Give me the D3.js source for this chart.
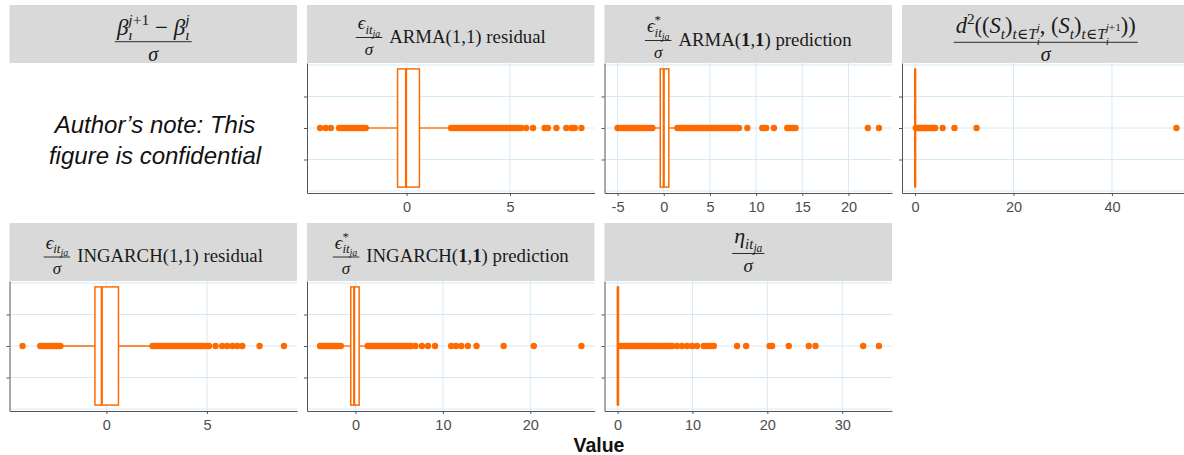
<!DOCTYPE html>
<html><head><meta charset="utf-8">
<script src="https://cdn.jsdelivr.net/npm/d3@7"></script>
<style>body{margin:0;background:#fff}svg{display:block}text{white-space:pre}</style>
</head><body>
<svg id="c" width="1184" height="455"></svg>
<script>
// ---------------- DATA ----------------
// box stats: [lower whisker, Q1, median, Q3, upper whisker]
const armaResBox = [-1.95, -0.44, -0.03, 0.62, 2.1];
const armaResOutliers = [-4.19, -3.92, -3.67, -3.27, -3.18, -3.1, -3.0, -2.92, -2.83, -2.75, -2.66, -2.58, -2.49, -2.41, -2.32, -2.24, -2.15, -2.07, -1.98,
  2.15, 2.23, 2.31, 2.4, 2.48, 2.57, 2.65, 2.74, 2.82, 2.9, 2.99, 3.07, 3.16, 3.24, 3.33, 3.41, 3.5, 3.58, 3.66, 3.75, 3.83, 3.92, 4.0, 4.09, 4.17, 4.26, 4.34, 4.42, 4.51, 4.6, 4.68, 4.77, 4.85, 4.94, 5.02, 5.1, 5.19, 5.27, 5.36, 5.45, 5.55,
  5.79, 6.12, 6.68, 6.84, 7.25, 7.73, 7.98, 8.14, 8.46];
const armaResTicks = [0, 5];

const armaPredBox = [-1.2, -0.38, 0.0, 0.55, 1.45];
const armaPredOutliers = [-5.0, -4.8, -4.6, -4.42, -4.25, -4.06, -3.88, -3.7, -3.52, -3.33, -3.15, -2.96, -2.78, -2.6, -2.42, -2.23, -2.05, -1.86, -1.68, -1.5, -1.32, -1.23,
  1.48, 1.66, 1.85, 2.03, 2.21, 2.4, 2.58, 2.76, 2.95, 3.13, 3.31, 3.5, 3.68, 3.86, 4.05, 4.23, 4.41, 4.6, 4.78, 4.96, 5.15, 5.33, 5.51, 5.7, 5.88, 6.06, 6.25, 6.43, 6.61, 6.8, 6.98, 7.16, 7.35, 7.53, 7.75, 7.95, 8.14,
  9.05, 10.67, 10.85, 11.1, 11.93, 13.37, 13.55, 13.75, 13.95, 14.12, 14.27, 22.1, 23.3];
const armaPredTicks = [-5, 0, 5, 10, 15, 20];

const d2Box = [0, 0, 0.02, 0.06, 0.1];
const d2Outliers = [0.15, 0.4, 0.65, 0.9, 1.15, 1.4, 1.65, 1.9, 2.15, 2.4, 2.7, 3.0, 3.3, 3.6, 3.85, 4.07, 5.6, 8.0, 12.5, 53.1];
const d2Ticks = [0, 20, 40];

const ingResBox = [-2.25, -0.57, -0.23, 0.6, 2.25];
const ingResOutliers = [-4.17, -3.29, -3.19, -3.09, -2.99, -2.89, -2.79, -2.69, -2.59, -2.49, -2.39, -2.29,
  2.3, 2.4, 2.5, 2.6, 2.7, 2.8, 2.9, 3.0, 3.1, 3.2, 3.3, 3.4, 3.5, 3.6, 3.7, 3.8, 3.9, 4.0, 4.1, 4.2, 4.3, 4.4, 4.5, 4.6, 4.7, 4.8, 4.9, 5.0, 5.1,
  5.43, 5.76, 6.01, 6.27, 6.51, 6.76, 7.62, 8.83];
const ingResTicks = [0, 5];

const ingPredBox = [-1.6, -0.54, -0.15, 0.42, 1.35];
const ingPredOutliers = [-4.05, -3.85, -3.65, -3.45, -3.25, -3.05, -2.85, -2.65, -2.45, -2.25, -2.05, -1.85, -1.68,
  1.4, 1.6, 1.8, 2.0, 2.2, 2.4, 2.6, 2.8, 3.0, 3.2, 3.4, 3.6, 3.8, 4.0, 4.2, 4.4, 4.6, 4.8, 5.0, 5.2, 5.4, 5.6, 5.8, 6.0, 6.2, 6.35,
  6.85, 7.6, 8.3, 9.1, 10.95, 11.5, 12.1, 12.85, 13.85, 16.95, 20.4, 25.85];
const ingPredTicks = [0, 10, 20];

const etaBox = [0, 0, 0.03, 0.12, 0.28];
const etaOutliers = [0.35, 0.6, 0.85, 1.1, 1.35, 1.6, 1.85, 2.1, 2.35, 2.6, 2.85, 3.1, 3.35, 3.6, 3.85, 4.1, 4.35, 4.6, 4.85, 5.1, 5.35, 5.6, 5.85, 6.1, 6.35, 6.6, 6.85, 7.1, 7.3,
  7.94, 8.6, 9.28, 9.95, 10.6, 11.5, 11.9, 12.2, 12.5, 12.85, 15.96, 17.17, 20.3, 20.64, 22.86, 25.53, 26.43, 32.8, 34.9];
const etaTicks = [0, 10, 20, 30];

const panelLabels = ["", "ARMA(1,1) residual", "ARMA(1,1) prediction", "", "INGARCH(1,1) residual", "INGARCH(1,1) prediction", ""];
const yBreaks = [-0.4, -0.2, 0, 0.2, 0.4];
const noteLines = ["Author’s note: This", "figure is confidential"];
const xTitle = "Value";

// ---------------- STYLE / LAYOUT ----------------
const orange = "#ff6a00";
const gridCol = "#d6eaf6";
const stripCol = "#d9d9d9";
const serif = "'Liberation Serif','DejaVu Serif',serif";
const sans = "'Liberation Sans',Arial,sans-serif";
const cols = [9.5, 307, 604.5, 902];
const rowsTop = [5, 223];
const panelW = 287.5, stripH = 58, plotH = 130;

const m = (t, l, i, f) => Object.assign({t, l, i}, f || {});
const numBeta = [m('β',0,1), m('j',1,1,{cs:1}), m('+1',1,0), m('ı',-1,1,{back:1}), m(' − ',0,0), m('β',0,1), m('j',1,1,{cs:1}), m('ı',-1,1,{back:1})];
const numEps = [m('ϵ',0,1), m('it',-1,1), m('ja',-2,1)];
const numEpsStar = [m('ϵ',0,1), m('*',1,0,{cs:1}), m('it',-1,1,{back:1}), m('ja',-2,1)];
const numD2 = [m('d',0,1), m('2',1,0), m('((',0,0), m('S',0,1), m('t',-1,1), m(')',0,0), m('t',-1,1), m('∈',-1,0), m('T',-1,1), m('j',-1.5,1,{cs:1}), m('i',-2.5,1,{back:1}),
  m(', (',0,0), m('S',0,1), m('t',-1,1), m(')',0,0), m('t',-1,1), m('∈',-1,0), m('T',-1,1), m('j',-1.5,1,{cs:1}), m('+1',-1.5,0), m('i',-2.5,1,{back:1}), m('))',0,0)];
const numEta = [m('η',0,1), m('it',-1,1), m('ja',-2,1)];

const panels = [
  {col:0,row:0, num:numBeta, ms:23, ds:20, lineOff:36.7, nb:-7, db:19},
  {col:1,row:0, box:armaResBox, out:armaResOutliers, ticks:armaResTicks, num:numEps, ms:19, ds:17, lineOff:32.5, nb:-8.5, db:17},
  {col:2,row:0, box:armaPredBox, out:armaPredOutliers, ticks:armaPredTicks, num:numEpsStar, ms:19, ds:17, lineOff:35.5, nb:-8.5, db:17, bold:true},
  {col:3,row:0, box:d2Box, out:d2Outliers, ticks:d2Ticks, num:numD2, ms:22.5, ds:20, lineOff:37.3, nb:-9, db:19},
  {col:0,row:1, box:ingResBox, out:ingResOutliers, ticks:ingResTicks, num:numEps, ms:19, ds:17, lineOff:34, nb:-8.5, db:17},
  {col:1,row:1, box:ingPredBox, out:ingPredOutliers, ticks:ingPredTicks, num:numEpsStar, ms:19, ds:17, lineOff:34, nb:-8.5, db:17, bold:true},
  {col:2,row:1, box:etaBox, out:etaOutliers, ticks:etaTicks, num:numEta, ms:22, ds:19, lineOff:30.5, nb:-10.5, db:18.5},
];

const svg = d3.select('#c');
const lv = {"0":[1,0], "1":[0.68,-0.42], "-1":[0.68,0.25], "-2":[0.52,0.42], "-1.5":[0.5,-0.12], "-2.5":[0.5,0.5]};

function drawRow(g, items, base) {
  let x = 0, colStart = 0;
  items.forEach(it => {
    const [sc, dy] = lv[String(it.l)];
    if (it.cs) colStart = x;
    let colEnd = 0;
    if (it.back) { colEnd = x; x = colStart; }
    const t = g.append('text').attr('x', x).attr('y', dy*base).attr('font-size', sc*base)
      .attr('font-style', it.i ? 'italic' : 'normal').text(it.t);
    x += t.node().getComputedTextLength();
    if (it.back) x = Math.max(x, colEnd);
  });
  return x;
}

function header(p, idx, left, top) {
  svg.append('rect').attr('x', left).attr('y', top).attr('width', panelW).attr('height', stripH).attr('fill', stripCol);
  const g = svg.append('g').attr('font-family', serif).attr('fill', '#1a1a1a');
  const num = g.append('g');
  const numW = drawRow(num, p.num, p.ms);
  const den = g.append('text').attr('font-style', 'italic').attr('font-size', p.ds).attr('y', p.db).text('σ');
  const denW = den.node().getComputedTextLength();
  const fw = Math.max(numW, denW) + 4;
  num.attr('transform', `translate(${(fw - numW)/2},${p.nb})`);
  den.attr('x', (fw - denW)/2);
  g.append('line').attr('x1', 0).attr('x2', fw).attr('stroke', '#1a1a1a').attr('stroke-width', 0.9);
  let total = fw;
  const label = panelLabels[idx];
  if (label) {
    const t = g.append('text').attr('x', fw + 7).attr('y', 5).attr('font-size', 18.8);
    label.split(/(1)/).forEach(s => { if (s) t.append('tspan').attr('font-weight', (p.bold && s === '1') ? 'bold' : 'normal').text(s); });
    total = fw + 7 + t.node().getComputedTextLength();
  }
  g.attr('transform', `translate(${left + (panelW - total)/2},${top + p.lineOff})`);
}

panels.forEach((p, idx) => {
  const left = cols[p.col], top = rowsTop[p.row];
  header(p, idx, left, top);
  if (!p.box) return;
  const pt = top + stripH, pb = pt + plotH;
  const lo = d3.min(p.out.concat(p.box)), hi = d3.max(p.out.concat(p.box));
  const pad = (hi - lo) * 0.05;
  const x = d3.scaleLinear().domain([lo - pad, hi + pad]).range([left, left + panelW]);
  const y = d3.scaleLinear().domain([-0.4125, 0.4125]).range([pb, pt]);
  const g = svg.append('g');
  // grid
  g.selectAll('.gy').data(yBreaks).join('line').attr('x1', left).attr('x2', left + panelW)
    .attr('y1', d => y(d)).attr('y2', d => y(d)).attr('stroke', gridCol).attr('stroke-width', 1);
  g.selectAll('.gx').data(p.ticks).join('line').attr('y1', pt).attr('y2', pb)
    .attr('x1', d => x(d)).attr('x2', d => x(d)).attr('stroke', gridCol).attr('stroke-width', 1);
  // box
  const [wl, q1, md, q3, wh] = p.box;
  const bt = y(0.375), bb = y(-0.375);
  g.append('line').attr('x1', x(wl)).attr('x2', x(q1)).attr('y1', y(0)).attr('y2', y(0)).attr('stroke', orange).attr('stroke-width', 1.3);
  g.append('line').attr('x1', x(q3)).attr('x2', x(wh)).attr('y1', y(0)).attr('y2', y(0)).attr('stroke', orange).attr('stroke-width', 1.3);
  g.append('rect').attr('x', x(q1)).attr('y', bt).attr('width', x(q3) - x(q1)).attr('height', bb - bt)
    .attr('fill', '#fff').attr('stroke', orange).attr('stroke-width', 1.5);
  g.append('line').attr('x1', x(md)).attr('x2', x(md)).attr('y1', bt).attr('y2', bb).attr('stroke', orange).attr('stroke-width', 2.2);
  // outliers
  g.selectAll('circle').data(p.out).join('circle').attr('cx', d => x(d)).attr('cy', y(0)).attr('r', 3.2).attr('fill', orange);
  // axes
  const ax = svg.append('g').attr('transform', `translate(0,${pb})`)
    .call(d3.axisBottom(x).tickValues(p.ticks).tickSize(3).tickSizeOuter(0).tickPadding(6).tickFormat(d => String(d)));
  ax.select('.domain').attr('stroke', '#555');
  ax.selectAll('.tick line').attr('stroke', '#555');
  ax.selectAll('text').attr('font-family', sans).attr('font-size', 14.5).attr('fill', '#4d4d4d');
  const ay = svg.append('g').attr('transform', `translate(${left},0)`)
    .call(d3.axisLeft(y).tickValues([-0.2, 0, 0.2]).tickSize(3).tickSizeOuter(0).tickFormat(''));
  ay.select('.domain').attr('stroke', '#555');
  ay.selectAll('.tick line').attr('stroke', '#555');
});

// note in the confidential panel
svg.append('g').selectAll('text').data(noteLines).join('text')
  .attr('x', 155).attr('y', (d, i) => 133 + i * 31).attr('text-anchor', 'middle')
  .attr('font-family', sans).attr('font-style', 'italic').attr('font-size', 24).attr('fill', '#111').text(d => d);

svg.append('text').attr('x', 599).attr('y', 452).attr('text-anchor', 'middle')
  .attr('font-family', sans).attr('font-weight', 'bold').attr('font-size', 19.5).attr('fill', '#111').text(xTitle);
</script>
</body></html>
